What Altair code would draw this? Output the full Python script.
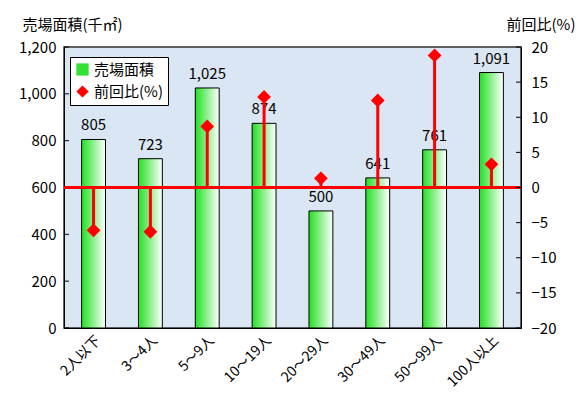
import altair as alt
import pandas as pd

categories = ["2人以下", "3～4人", "5～9人", "10～19人", "20～29人", "30～49人", "50～99人", "100人以上"]
area = [805, 723, 1025, 874, 500, 641, 761, 1091]
change = [-6.1, -6.3, 8.7, 12.9, 1.3, 12.4, 18.8, 3.3]
series_names = ["売場面積", "前回比(%)"]
left_ticks = [0, 200, 400, 600, 800, 1000, 1200]
right_ticks = [-20, -15, -10, -5, 0, 5, 10, 15, 20]

df = pd.DataFrame({"cat": categories, "area": area, "change": change,
                   "zero": [0] * len(categories), "series": "前回比(%)"})
lt = pd.DataFrame({"v": left_ticks})
rt = pd.DataFrame({"v": right_ticks})

FONT = "Noto Sans CJK JP"

x = alt.X("cat:N", sort=categories, title=None,
          scale=alt.Scale(paddingInner=0.58, paddingOuter=0.31),
          axis=alt.Axis(labelAngle=-45, labelAlign="right", labelBaseline="top",
                        labelFontSize=14, labelColor="black", ticks=False,
                        domain=True, domainColor="black", labelPadding=5))

yl_scale = alt.Scale(domain=[0, 1200])
yl_axis = alt.Axis(values=left_ticks, format=",d",
                   grid=False, labelFontSize=15, labelColor="black",
                   ticks=False, domainColor="black",
                   labelPadding=8,
                   title="売場面積(千㎡)", titleAngle=0, titleAlign="left",
                   titleBaseline="middle", titleX=-42, titleY=-23,
                   titleFontSize=15, titleFontWeight="normal", titleColor="black")
yl = alt.Y("area:Q", scale=yl_scale, axis=yl_axis, title="売場面積(千㎡)")

yr_scale = alt.Scale(domain=[-20, 20])
yr_axis = alt.Axis(orient="right", values=right_ticks,
                   grid=False, labelFontSize=15, labelColor="black",
                   ticks=False, domainColor="black",
                   labelPadding=10,
                   title="前回比(%)", titleAngle=0, titleAlign="right",
                   titleBaseline="middle", titleX=54, titleY=-23,
                   titleFontSize=15, titleFontWeight="normal", titleColor="black")

bars = alt.Chart(df).mark_bar(
    stroke="black", strokeWidth=1,
    color=alt.Gradient(gradient="linear", x1=0, x2=1, y1=0, y2=0,
                       stops=[alt.GradientStop(offset=0, color="#22e022"),
                              alt.GradientStop(offset=1, color="#ffffff")])
).encode(x=x, y=yl)

labels = alt.Chart(df).mark_text(dy=-14, fontSize=15, font=FONT, color="black").encode(
    x=x, y=yl, text=alt.Text("area:Q", format=",d")
)

lticks = alt.Chart(lt).mark_rule(color="black", strokeWidth=1).encode(
    x=alt.value(0), x2=alt.value(5),
    y=alt.Y("v:Q", scale=yl_scale, axis=yl_axis, title="売場面積(千㎡)")
)

left = alt.layer(bars, labels, lticks)

zero = alt.Chart(df).mark_rule(color="red", strokeWidth=2.5).encode(
    y=alt.Y("zero:Q", scale=yr_scale, axis=yr_axis, title="前回比(%)")
)

rticks = alt.Chart(rt).mark_rule(color="black", strokeWidth=1).encode(
    x=alt.value(452), x2=alt.value(457),
    y=alt.Y("v:Q", scale=yr_scale, axis=yr_axis, title="前回比(%)")
)

stems = alt.Chart(df).mark_rule(color="red", strokeWidth=3).encode(
    x=x,
    y=alt.Y("change:Q", scale=yr_scale, axis=yr_axis, title="前回比(%)"),
    y2="zero:Q"
)

points = alt.Chart(df).mark_point(filled=True, size=190, opacity=1).encode(
    x=x,
    y=alt.Y("change:Q", scale=yr_scale, axis=yr_axis, title="前回比(%)"),
    color=alt.Color("series:N", scale=alt.Scale(domain=series_names, range=["#33e033", "red"]),
                    legend=alt.Legend(title=None, orient="none", legendX=6, legendY=10,
                                      fillColor="white", strokeColor="black", padding=5,
                                      labelFontSize=15, labelFont=FONT, labelColor="black",
                                      symbolSize=150, rowPadding=6, symbolStrokeWidth=0)),
    shape=alt.Shape("series:N", scale=alt.Scale(domain=series_names, range=["square", "diamond"]),
                    legend=None)
)

right = alt.layer(zero, rticks, stems, points)

chart = alt.layer(left, right).resolve_scale(y="independent").properties(
    width=457, height=281,
    padding={"left": 10, "top": 9, "right": 0, "bottom": 0}
).configure(
    font=FONT, background="white",
    view=alt.ViewConfig(fill="#dae6f3", stroke="#333333", strokeWidth=1.5),
    axis=alt.AxisConfig(labelFont=FONT, titleFont=FONT),
)

chart.save("out.html", embed_options={"renderer": "svg", "actions": False})
